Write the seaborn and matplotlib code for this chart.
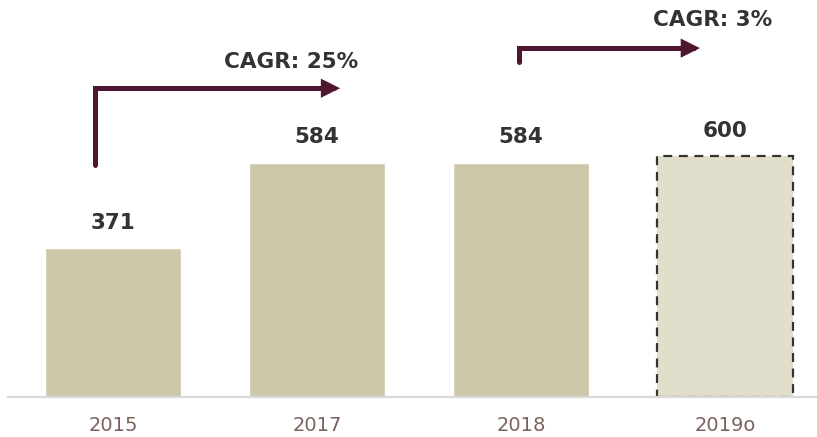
import matplotlib
matplotlib.use("Agg")
import matplotlib.pyplot as plt
import seaborn as sns
import pandas as pd

# Data
years = ["2015", "2017", "2018", "2019o"]
values = [371, 584, 584, 600]
cagr_labels = ["CAGR: 25%", "CAGR: 3%"]

sns.set_theme(style="white")
plt.rcParams['font.family'] = ['DejaVu Sans']

BAR = "#cdc8aa"
BAR_EST = "#e1decb"
ARROW = "#4e1631"
TXT = "#333333"
TICK = "#7b625f"

df = pd.DataFrame({"year": years, "value": values})

fig = plt.figure(figsize=(8.17, 4.37), dpi=100)
ax = fig.add_axes([8/817, 40/437, 809/817, 397/437])

sns.barplot(data=df, x="year", y="value", hue="year",
            palette=[BAR, BAR, BAR, BAR_EST], width=0.667,
            legend=False, ax=ax, saturation=1)

# estimated bar dashed outline
est = ax.patches[3]
est.set_edgecolor("#333333")
est.set_linestyle((0, (4, 3)))
est.set_linewidth(1.6)

ax.set_xlim(-0.5147, 3.451)
ax.set_ylim(0, 990)

for i, v in enumerate(values):
    ax.text(i, v + 64, f"{v}", ha="center", va="center",
            fontsize=15.5, fontweight="bold", color=TXT)

# CAGR arrows
def elbow(x0, y0, y1, x1):
    ax.annotate("", xy=(x1, y1), xytext=(x0, y0),
                arrowprops=dict(arrowstyle="-|>", color=ARROW, lw=3.6,
                                mutation_scale=20, shrinkA=0, shrinkB=0,
                                connectionstyle="angle,angleA=90,angleB=0,rad=0",
                                capstyle="round", joinstyle="miter"))

elbow(-0.088, values[0] + 207, values[1] + 186, 1.113)
elbow(1.99, values[2] + 251, values[2] + 286, 2.877)

ax.text(0.873, 835, cagr_labels[0], ha="center", va="center",
        fontsize=15.5, fontweight="bold", color=TXT)
ax.text(2.94, 940, cagr_labels[1], ha="center", va="center",
        fontsize=15.5, fontweight="bold", color=TXT)

sns.despine(ax=ax, left=True, top=True, right=True)
ax.spines["bottom"].set_color("#d9d9d9")
ax.spines["bottom"].set_linewidth(1.6)
ax.set_yticks([])
ax.set_xlabel("")
ax.set_ylabel("")
ax.tick_params(axis="x", length=0, pad=14, labelsize=14, labelcolor=TICK)
for lab in ax.get_xticklabels():
    lab.set_family(["Liberation Sans Narrow", "DejaVu Sans"])

fig.savefig("out.png", dpi=100)
